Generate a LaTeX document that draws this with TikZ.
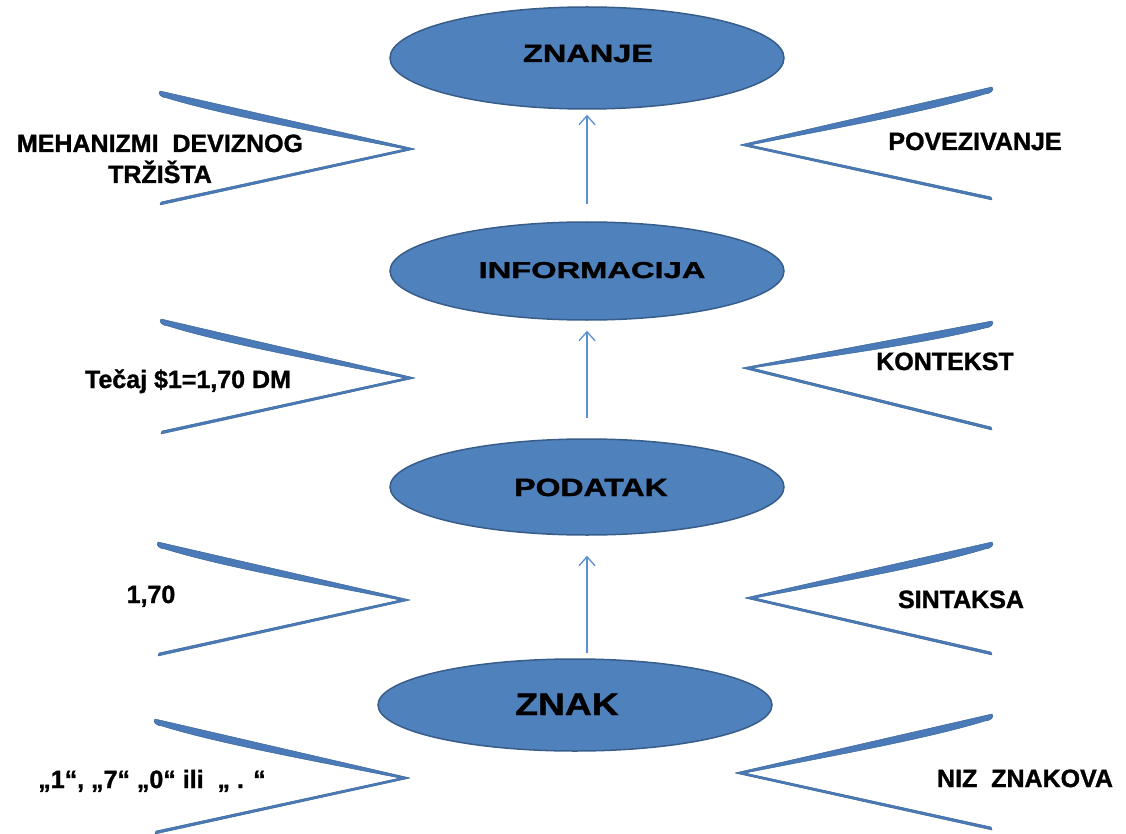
\documentclass[tikz,border=0pt]{standalone}
\usepackage{fontspec}
\setmainfont{Liberation Sans}
\newfontfamily\lblfont{Liberation Sans Bold}[FakeBold=1.2]
\usetikzlibrary{arrows.meta,shapes.geometric}
\definecolor{ellfill}{HTML}{4F81BD}
\definecolor{elledge}{HTML}{385D8A}
\definecolor{chevfill}{HTML}{4A7BB8}
\definecolor{chevedge}{HTML}{3A6598}
\definecolor{arrcol}{HTML}{5B8FD3}
\tikzset{
  ell/.style={ellipse, fill=ellfill, draw=elledge, line width=1.5pt, minimum width=394pt, minimum height=102pt, inner sep=0pt},
  lbl/.style={font=\fontsize{25}{31}\lblfont\selectfont, anchor=base, inner sep=0pt, align=center},
  arr/.style={draw=arrcol, line width=1.3pt, -{Straight Barb[length=9pt,width=16pt,line width=1.3pt]}},
  chevshape/.style={fill=chevfill, draw=chevedge, line width=0.5pt, line join=round},
  pics/chev/.style n args={3}{code={
    \path[chevshape] (0,-1) -- (#1,#2) -- (0,#2+#3) -- (1,#2+#3-3) -- (#1-10,#2)
      .. controls (0.6*#1,0.6*#2+5) and (0.25*#1,0.25*#2+9) .. (7,6)
      .. controls (2,6) and (-3,2) .. (0,-1) -- cycle;
  }}
}
\begin{document}
\begin{tikzpicture}[x=1pt,y=-1pt]
\useasboundingbox (0,0) rectangle (1126,834);
% ellipses
\node[ell] (znanje) at (587,58) {};
\node[ell, minimum height=98pt] (info) at (587,271) {};
\node[ell, minimum height=96pt] (podatak) at (587,487) {};
\node[ell, minimum height=92pt] (znak) at (575,705) {};
% ellipse texts
\node[lbl] (tznanje) at (588,62) {\scalebox{1.3}[1]{ZNANJE}};
\node[lbl, font=\fontsize{23}{28}\lblfont\selectfont] (tinfo) at (592,278) {\scalebox{1.42}[1]{INFORMACIJA}};
\node[lbl] (tpodatak) at (591,496) {\scalebox{1.28}[1]{PODATAK}};
\node[lbl, font=\fontsize{31}{36}\lblfont\selectfont] (tznak) at (567,715) {\scalebox{1.2}[1]{ZNAK}};
% arrows
\draw[arr, shorten <=17pt, shorten >=5pt] (info.north) -- (znanje.south);
\draw[arr, shorten <=20pt, shorten >=10pt] (podatak.north) -- (info.south);
\draw[arr, shorten <=5pt, shorten >=20pt] (znak.north -| podatak.south) -- (podatak.south);
% chevrons left
\pic at (160,92) {chev={255}{57}{56}};
\pic at (161,320) {chev={254}{58}{56}};
\pic at (158,543) {chev={252}{57}{56}};
\pic at (155,720) {chev={255}{58}{56}};
% chevrons right
\pic[xscale=-1] at (992,88) {chev={252}{57}{55}};
\pic[xscale=-1] at (992,322) {chev={250}{46}{62}};
\pic[xscale=-1] at (992,543) {chev={247}{55}{57}};
\pic[xscale=-1] at (992,715) {chev={257}{58}{57}};
% side labels
\node[lbl] (mehan) at (160,183) {MEHANIZMI\ \ DEVIZNOG\\TRŽIŠTA};
\node[lbl] (povez) at (975,150) {POVEZIVANJE};
\node[lbl] (tecaj) at (188,388) {Tečaj \$1=1,70 DM};
\node[lbl] (kontekst) at (945,370) {KONTEKST};
\node[lbl] (broj) at (151,603) {1,70};
\node[lbl] (sintaksa) at (961,608) {SINTAKSA};
\node[lbl] (znakovi) at (152,788) {„1“, „7“ „0“ ili \ „ . “};
\node[lbl] (niz) at (1025,787) {NIZ\ \ ZNAKOVA};
\end{tikzpicture}
\end{document}
